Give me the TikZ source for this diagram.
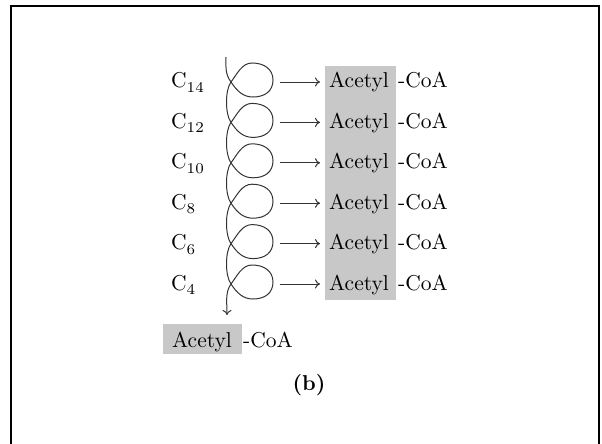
\documentclass[tikz,border=0pt]{standalone}
\usepackage{fontspec}
\setmainfont{lmroman10}[Extension=.otf, UprightFont=*-regular, BoldFont=*-bold]
\newfontfamily\subfont{lmroman7}[Extension=.otf, UprightFont=*-regular]
\usetikzlibrary{arrows.meta}
\definecolor{boxgray}{HTML}{C8C8C8}
\definecolor{linegray}{HTML}{333333}
\newcommand\myloop[1]{%
 .. controls +(6,9) and +(-10,0) .. (253,{#1+15})
 .. controls +(12,0) and +(0,11) .. (273,{#1-2})
 .. controls +(0,-11) and +(12,0) .. (252,{#1-19})
 .. controls +(-10,0) and +(6,-8) .. (231,#1)}
\newcommand\mysub[1]{\raisebox{-4.5pt}{\subfont\fontsize{15pt}{17pt}\selectfont #1}}
\begin{document}
\begin{tikzpicture}[x=1pt,y=-1pt,
  txt/.style={inner sep=0pt,anchor=base west,font=\fontsize{21.5pt}{26pt}\selectfont},
  tiptype/.style={-{To[length=5pt,width=9pt]}},
  spiral/.style={draw=linegray,line width=1pt,tiptype},
  harrow/.style={draw=linegray,line width=1pt,tiptype,shorten >=9pt}]
\useasboundingbox (0,0) rectangle (602,444);
\draw[line width=2.5pt] (11,6) rectangle (599,470);
\fill[boxgray] (325,66) rectangle (396,300);
\fill[boxgray] (163,324) rectangle (242,354);
% labels
\node[txt] (c14) at (171,88) {C\mysub{14}};
\node[txt] (c12) at (171,128.4) {C\mysub{12}};
\node[txt] (c10) at (171,168.8) {C\mysub{10}};
\node[txt] (c8) at (171,209.2) {C\mysub{8}};
\node[txt] (c6) at (171,249.6) {C\mysub{6}};
\node[txt] (c4) at (171,290) {C\mysub{4}};
\foreach \i in {0,...,5}{
  \node[txt] (ac\i) at (329,{88+40.4*\i}) {Acetyl};
  \node[txt] (coa\i) at (398,{88+40.4*\i}) {-CoA};
  \coordinate (s\i) at (280,{82+40.4*\i});
  \draw[harrow] (s\i) -- (s\i -| ac\i.west);
}
\node[txt] (acb) at (172,347) {Acetyl};
\node[txt] (coab) at (243,347) {-CoA};
\node[txt,anchor=base] (lab) at (309,390) {\bfseries (b)};
% spiral
\coordinate (top) at (226,57);
\coordinate (tip) at (227,315);
\draw[spiral] (top) .. controls (226,67) and (225,74) .. (231,82)
 \myloop{82}
 .. controls +(-6,8) and +(-6,-8) .. (231,122.4) \myloop{122.4}
 .. controls +(-6,8) and +(-6,-8) .. (231,162.8) \myloop{162.8}
 .. controls +(-6,8) and +(-6,-8) .. (231,203.2) \myloop{203.2}
 .. controls +(-6,8) and +(-6,-8) .. (231,243.6) \myloop{243.6}
 .. controls +(-6,8) and +(-6,-8) .. (231,284) \myloop{284}
 .. controls +(-6,8) and +(0,-12) .. (tip);
\end{tikzpicture}
\end{document}
